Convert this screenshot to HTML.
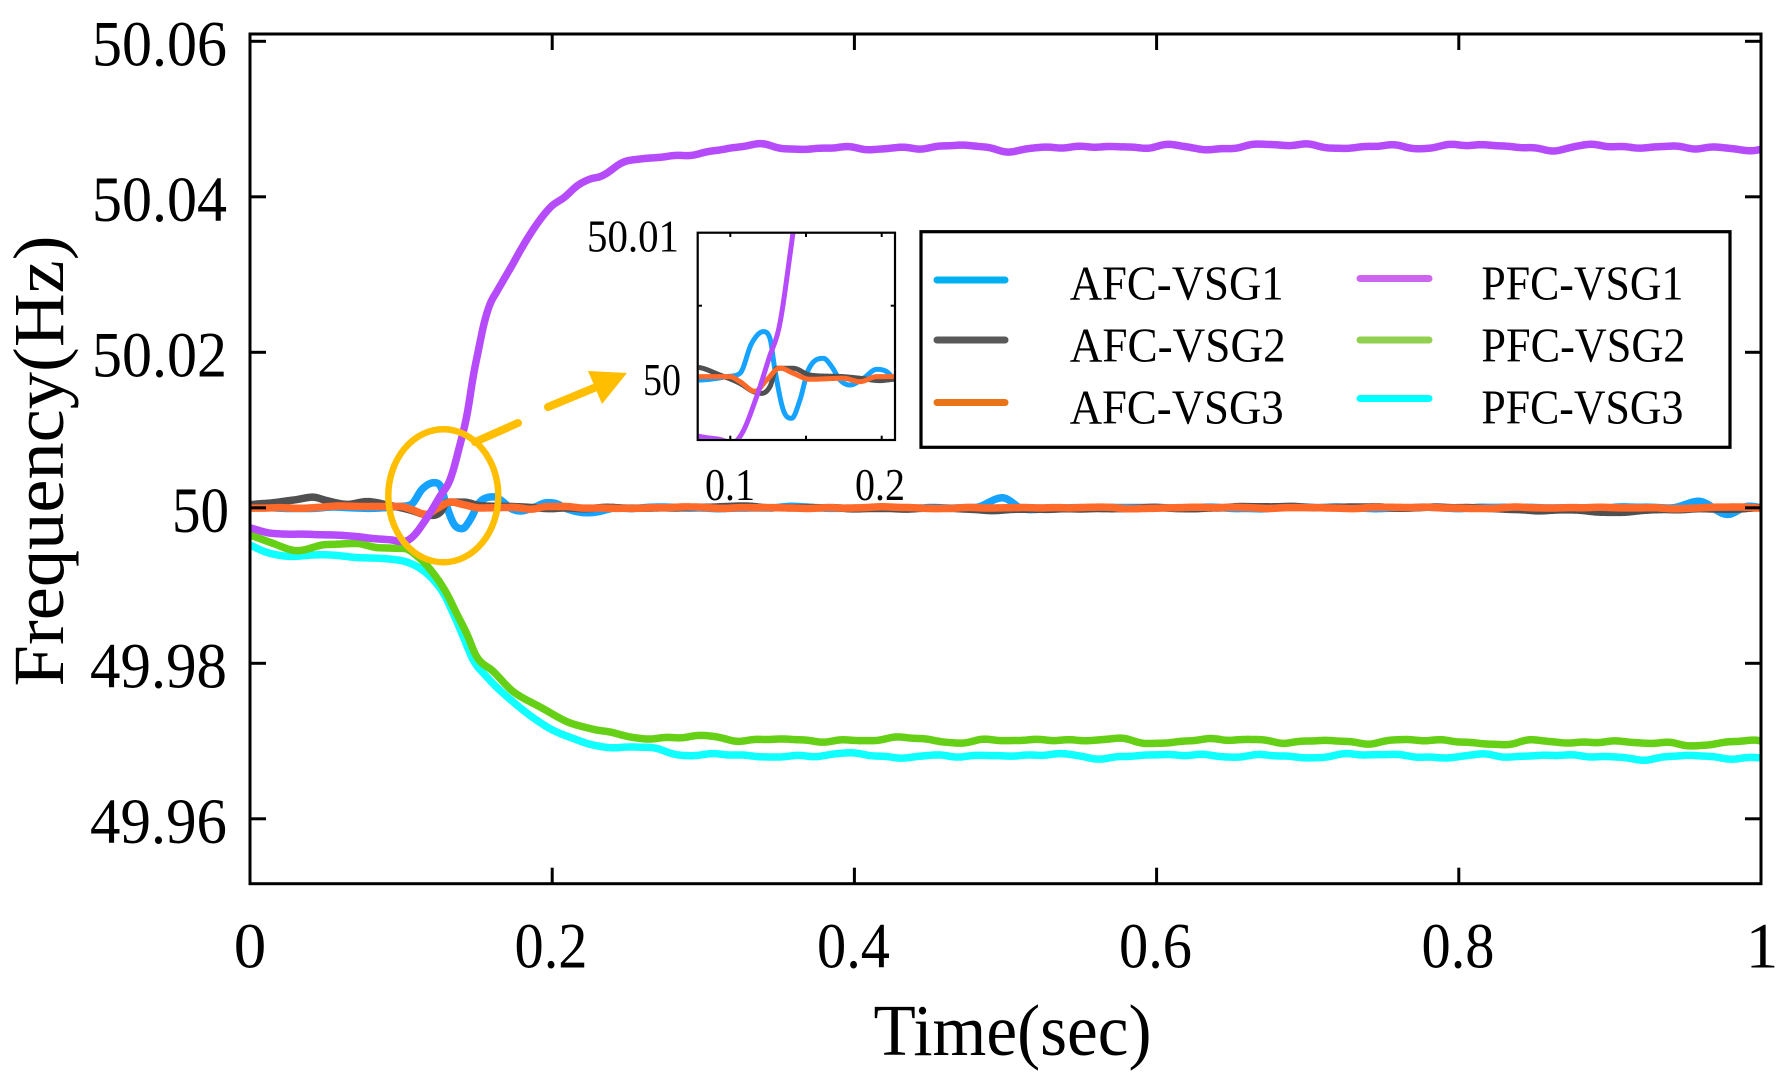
<!DOCTYPE html>
<html>
<head>
<meta charset="utf-8">
<style>
html,body{margin:0;padding:0;background:#fff;}
body{width:1787px;height:1078px;overflow:hidden;position:relative;}
svg{position:absolute;left:0;top:0;}
text{font-family:"Liberation Serif","Times New Roman",serif;fill:#000;}
</style>
</head>
<body>
<svg id="s" width="1787" height="1078" viewBox="0 0 1787 1078" xmlns="http://www.w3.org/2000/svg">
<defs>
<clipPath id="cm"><rect x="251.5" y="35.5" width="1508" height="846.7"/></clipPath>
<clipPath id="ci"><rect x="698.8" y="233.8" width="195.1" height="205.1"/></clipPath>
</defs>
<rect x="0" y="0" width="1787" height="1078" fill="#fff"/>

<g id="main" clip-path="url(#cm)" fill="none" stroke-linejoin="round" stroke-linecap="round"></g>

<rect x="250" y="34" width="1511" height="849.7" fill="none" stroke="#000" stroke-width="3"/>
<g stroke="#000" stroke-width="3">
  <line x1="552.2" y1="883.7" x2="552.2" y2="867.7"/><line x1="552.2" y1="34" x2="552.2" y2="50"/>
  <line x1="854.4" y1="883.7" x2="854.4" y2="867.7"/><line x1="854.4" y1="34" x2="854.4" y2="50"/>
  <line x1="1156.6" y1="883.7" x2="1156.6" y2="867.7"/><line x1="1156.6" y1="34" x2="1156.6" y2="50"/>
  <line x1="1458.8" y1="883.7" x2="1458.8" y2="867.7"/><line x1="1458.8" y1="34" x2="1458.8" y2="50"/>
  <line x1="250" y1="41.3" x2="266" y2="41.3"/><line x1="1761" y1="41.3" x2="1745" y2="41.3"/>
  <line x1="250" y1="196.8" x2="266" y2="196.8"/><line x1="1761" y1="196.8" x2="1745" y2="196.8"/>
  <line x1="250" y1="352.3" x2="266" y2="352.3"/><line x1="1761" y1="352.3" x2="1745" y2="352.3"/>
  <line x1="250" y1="507.8" x2="266" y2="507.8"/><line x1="1761" y1="507.8" x2="1745" y2="507.8"/>
  <line x1="250" y1="663.3" x2="266" y2="663.3"/><line x1="1761" y1="663.3" x2="1745" y2="663.3"/>
  <line x1="250" y1="818.8" x2="266" y2="818.8"/><line x1="1761" y1="818.8" x2="1745" y2="818.8"/>
</g>

<g font-size="65" text-anchor="end">
  <text x="227" y="65.5" textLength="135" lengthAdjust="spacingAndGlyphs">50.06</text>
  <text x="227" y="221" textLength="135" lengthAdjust="spacingAndGlyphs">50.04</text>
  <text x="227" y="376.5" textLength="135" lengthAdjust="spacingAndGlyphs">50.02</text>
  <text x="229" y="532" textLength="57" lengthAdjust="spacingAndGlyphs">50</text>
  <text x="227" y="687.3" textLength="137" lengthAdjust="spacingAndGlyphs">49.98</text>
  <text x="227" y="843" textLength="137" lengthAdjust="spacingAndGlyphs">49.96</text>
</g>
<g font-size="65" text-anchor="middle">
  <text x="250" y="967.7">0</text>
  <text x="551" y="967.7" textLength="73" lengthAdjust="spacingAndGlyphs">0.2</text>
  <text x="853.5" y="967.7" textLength="73" lengthAdjust="spacingAndGlyphs">0.4</text>
  <text x="1155.5" y="967.7" textLength="73" lengthAdjust="spacingAndGlyphs">0.6</text>
  <text x="1458" y="967.7" textLength="73" lengthAdjust="spacingAndGlyphs">0.8</text>
  <text x="1762" y="967.7">1</text>
</g>
<text x="1012.5" y="1055" font-size="73" text-anchor="middle" textLength="278" lengthAdjust="spacingAndGlyphs">Time(sec)</text>
<text transform="translate(63,461) rotate(-90)" font-size="72" text-anchor="middle" textLength="451" lengthAdjust="spacingAndGlyphs">Frequency(Hz)</text>

<rect x="697.7" y="232.7" width="197.3" height="207.3" fill="#fff"/>
<g id="ins" clip-path="url(#ci)" fill="none" stroke-linejoin="round" stroke-linecap="round"></g>
<rect x="697.7" y="232.7" width="197.3" height="207.3" fill="none" stroke="#000" stroke-width="2.2"/>
<g stroke="#000" stroke-width="2">
  <line x1="806" y1="232.7" x2="806" y2="237"/><line x1="881.7" y1="232.7" x2="881.7" y2="237"/>
  <line x1="806" y1="440" x2="806" y2="435.7"/><line x1="881.7" y1="440" x2="881.7" y2="435.7"/>
  <line x1="730.3" y1="440" x2="730.3" y2="435.7"/><line x1="730.3" y1="232.7" x2="730.3" y2="237"/>
  <line x1="697.7" y1="305.7" x2="702" y2="305.7"/><line x1="895" y1="305.7" x2="890.7" y2="305.7"/>
</g>
<g font-size="46">
  <text x="679" y="251.7" text-anchor="end" textLength="92" lengthAdjust="spacingAndGlyphs">50.01</text>
  <text x="681" y="395" text-anchor="end" textLength="38" lengthAdjust="spacingAndGlyphs">50</text>
  <text x="730" y="500" text-anchor="middle" textLength="50" lengthAdjust="spacingAndGlyphs">0.1</text>
  <text x="880" y="500" text-anchor="middle" textLength="50" lengthAdjust="spacingAndGlyphs">0.2</text>
</g>

<rect x="921" y="231.7" width="809" height="215.6" fill="#fff" stroke="#000" stroke-width="3.2"/>
<g stroke-width="7" stroke-linecap="round">
  <line x1="937" y1="280" x2="1005" y2="280" stroke="#00b0f0"/>
  <line x1="937" y1="340" x2="1005" y2="340" stroke="#595959"/>
  <line x1="937" y1="402.5" x2="1005" y2="402.5" stroke="#e97316"/>
  <line x1="1360" y1="278.5" x2="1429" y2="278.5" stroke="#cc66ee"/>
  <line x1="1360" y1="340" x2="1429" y2="340" stroke="#92d050"/>
  <line x1="1360" y1="398.5" x2="1429" y2="398.5" stroke="#00ffff"/>
</g>
<g font-size="49">
  <text x="1069.7" y="299.3" textLength="214" lengthAdjust="spacingAndGlyphs">AFC-VSG1</text>
  <text x="1069.7" y="361.7" textLength="216" lengthAdjust="spacingAndGlyphs">AFC-VSG2</text>
  <text x="1069.7" y="423.3" textLength="214" lengthAdjust="spacingAndGlyphs">AFC-VSG3</text>
  <text x="1481.4" y="299.3" textLength="202" lengthAdjust="spacingAndGlyphs">PFC-VSG1</text>
  <text x="1481.4" y="361.7" textLength="204" lengthAdjust="spacingAndGlyphs">PFC-VSG2</text>
  <text x="1481.4" y="423.3" textLength="202" lengthAdjust="spacingAndGlyphs">PFC-VSG3</text>
</g>

<ellipse cx="443.3" cy="495.8" rx="55" ry="66.5" fill="none" stroke="#ffbf00" stroke-width="6.5"/>
<g stroke="#ffbf00" stroke-width="8" stroke-linecap="round">
  <line x1="475" y1="442" x2="518" y2="423"/>
  <line x1="548" y1="407" x2="594" y2="388"/>
</g>
<polygon points="627,373 588,371 602,404" fill="#ffbf00"/>
</svg>

<script>
(function(){
  var NS="http://www.w3.org/2000/svg";
  function mono(kp){
    var n=kp.length, xs=[], ys=[], d=[], m=[], i;
    for(i=0;i<n;i++){xs.push(kp[i][0]);ys.push(kp[i][1]);}
    for(i=0;i<n-1;i++) d.push((ys[i+1]-ys[i])/(xs[i+1]-xs[i]));
    m[0]=d[0]; m[n-1]=d[n-2];
    for(i=1;i<n-1;i++){
      if(d[i-1]*d[i]<=0){m[i]=0;}
      else{
        m[i]=(d[i-1]+d[i])/2;
        var lim=3*Math.min(Math.abs(d[i-1]),Math.abs(d[i]));
        if(Math.abs(m[i])>lim) m[i]=(m[i]>0?1:-1)*lim;
      }
    }
    return function(t){
      if(t<=xs[0]) return ys[0];
      if(t>=xs[n-1]) return ys[n-1];
      var j=0; while(t>xs[j+1]) j++;
      var h=xs[j+1]-xs[j], u=(t-xs[j])/h, u2=u*u, u3=u2*u;
      return (2*u3-3*u2+1)*ys[j]+(u3-2*u2+u)*h*m[j]+(-2*u3+3*u2)*ys[j+1]+(u3-u2)*h*m[j+1];
    };
  }
  function nz(t,seed){
    var fr=[8.7,14.3,21.9,33.1,52.7], am=[0.35,0.4,0.3,0.2,0.1], s=0;
    for(var k=0;k<fr.length;k++) s+=am[k]*Math.sin(2*Math.PI*fr[k]*t+seed*(k+1)*1.713);
    return s;
  }
  function smooth(a,b,t){ if(t<=a) return 0; if(t>=b) return 1; var u=(t-a)/(b-a); return u*u*(3-2*u);}
  function wAFC(t){ return 1-smooth(0.06,0.078,t)+smooth(0.21,0.23,t); }
  function wPFC(t){ return 0.2+0.8*smooth(0.2,0.26,t); }

  var purple=[[0,49.9974],[0.0154,49.9967],[0.05,49.99655],[0.0706,49.9963],[0.0926,49.9959],[0.1015,49.99562],[0.108,49.99628],[0.117,49.9986],[0.1257,50.0014],[0.1324,50.0036],[0.139,50.0082],[0.1436,50.0120],[0.1478,50.0170],[0.1514,50.0205],[0.155,50.0238],[0.1588,50.0262],[0.1638,50.0280],[0.1727,50.0310],[0.18,50.0335],[0.1904,50.0366],[0.1992,50.0387],[0.2081,50.0399],[0.2171,50.0415],[0.2257,50.0424],[0.2316,50.0427],[0.25,50.0443],[0.27,50.0452],[0.3,50.0458],[0.32,50.0463],[0.5,50.0463],[0.7,50.0465],[1.0,50.0463]];
  var green=[[0,49.9965],[0.0154,49.99543],[0.0309,49.99448],[0.0508,49.99534],[0.0706,49.99534],[0.086,49.99479],[0.1015,49.99479],[0.1125,49.9935],[0.1213,49.99158],[0.1302,49.989],[0.1368,49.98643],[0.1434,49.98386],[0.15,49.98085],[0.161,49.97892],[0.1743,49.97635],[0.1919,49.97442],[0.214,49.97206],[0.2361,49.97133],[0.2581,49.97056],[0.2801,49.97046],[0.3243,49.97022],[0.5,49.9701],[0.7,49.9700],[1,49.9697]];
  var cyan=[[0,49.99522],[0.011,49.99435],[0.0287,49.99371],[0.0485,49.99393],[0.0706,49.99363],[0.0927,49.99341],[0.1037,49.99307],[0.1125,49.99222],[0.1213,49.99071],[0.128,49.989],[0.1345,49.98643],[0.1412,49.98342],[0.1478,49.98042],[0.1566,49.97828],[0.1699,49.9757],[0.1831,49.97357],[0.1985,49.97164],[0.214,49.97035],[0.2361,49.96927],[0.2581,49.96907],[0.2801,49.96843],[0.3022,49.9682],[0.5,49.9681],[0.8,49.9681],[1,49.9678]];
  var blue=[[0,50.0],[0.03,49.9999],[0.06,50.0001],[0.0784,49.99993],[0.0976,50.00016],[0.1064,50.00039],[0.1141,50.00243],[0.1218,50.00323],[0.1262,50.00277],[0.1295,50.00061],[0.135,49.99789],[0.1405,49.99732],[0.146,49.99857],[0.1515,50.00061],[0.1615,50.00141],[0.167,50.00084],[0.1725,49.99993],[0.1791,49.99959],[0.1879,50.00005],[0.1967,50.00066],[0.2033,50.0005],[0.2088,49.99993],[0.225,49.9993],[0.245,50.0],[0.48,50.0],[0.498,50.0012],[0.512,49.9998],[0.525,50.0],[0.94,50.0],[0.958,50.0008],[0.978,49.9992],[0.992,50.0002],[1,50.0]];
  var gray=[[0,50.0004],[0.015,50.00066],[0.0287,50.001],[0.0408,50.0014],[0.0507,50.0009],[0.064,50.0005],[0.0772,50.0008],[0.0932,50.00027],[0.1064,49.9997],[0.1152,49.99914],[0.1207,49.99902],[0.1262,49.99948],[0.1306,50.00073],[0.1416,50.00073],[0.1526,50.00027],[0.1747,50.00016],[0.1857,50.00005],[0.1989,49.99989],[0.2088,49.99998],[0.22,49.9999],[0.3,50.0001],[0.5,49.9998],[0.7,50.0001],[0.88,49.9996],[0.9,49.9994],[0.93,49.9997],[1,50.0]];
  var orange=[[0,49.99995],[0.05,50.0001],[0.0784,50.00016],[0.0998,50.00016],[0.1064,49.99982],[0.1163,49.99916],[0.124,49.99993],[0.1328,50.00075],[0.1416,50.00039],[0.1526,49.99998],[0.1747,50.00005],[0.1857,49.99982],[0.1967,50.00016],[0.2088,50.00016],[0.22,50.0],[1,50.0]];

  var S=[
    {c:"#10ffff",f:mono(cyan),seed:3,amp:0.00035,w:wPFC},
    {c:"#66d016",f:mono(green),seed:2,amp:0.0004,w:wPFC},
    {c:"#16a2ff",f:mono(blue),seed:4,amp:0.00016,w:wAFC},
    {c:"#505050",f:mono(gray),seed:5,amp:0.00014,w:wAFC},
    {c:"#ff6a2b",f:mono(orange),seed:6,amp:0.00012,w:wAFC},
    {c:"#b54bfb",f:mono(purple),seed:1,amp:0.00045,w:wPFC}
  ];
  function val(s,t){ return s.f(t)+s.amp*s.w(t)*nz(t,s.seed); }

  var gm=document.getElementById("main"), gi=document.getElementById("ins");
  S.forEach(function(s){
    var d="", t, k, X, Y;
    for(k=0;k<=1000;k++){
      t=k/1000;
      X=250+t*1511; Y=507.8-(val(s,t)-50)*7775;
      d+=(k?"L":"M")+X.toFixed(2)+" "+Y.toFixed(2);
    }
    var p=document.createElementNS(NS,"path");
    p.setAttribute("d",d); p.setAttribute("stroke",s.c); p.setAttribute("stroke-width","7.5");
    gm.appendChild(p);

    d="";
    for(k=0;k<=500;k++){
      t=0.07+k*0.0003;
      X=730.3+(t-0.1)*1514; Y=379-(val(s,t)-50)*14660;
      d+=(k?"L":"M")+X.toFixed(2)+" "+Y.toFixed(2);
    }
    var q=document.createElementNS(NS,"path");
    q.setAttribute("d",d); q.setAttribute("stroke",s.c); q.setAttribute("stroke-width","5");
    gi.appendChild(q);
  });
})();
</script>
</body>
</html>
